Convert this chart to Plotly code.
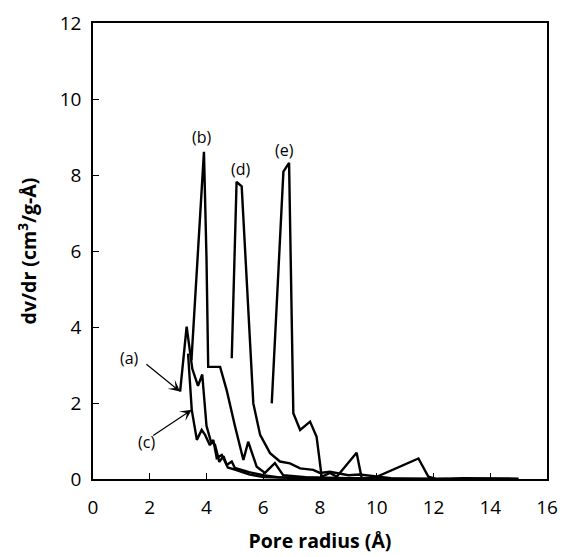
import plotly.graph_objects as go

# Pore size distribution curves (pore radius in Å, dv/dr in cm3/g-Å)
a_x = [3.07, 3.30, 3.50, 3.70, 3.85, 4.00, 4.15, 4.30, 4.45, 4.60, 4.75, 5.00, 5.50, 6.00, 7.00, 8.00, 10.0, 12.0]
a_y = [2.30, 4.01, 2.90, 2.45, 2.75, 1.40, 1.00, 0.90, 0.45, 0.60, 0.30, 0.25, 0.12, 0.05, 0.03, 0.02, 0.01, 0.00]

b_x = [3.47, 3.88, 3.91, 4.00, 4.06, 4.48, 4.71, 5.00, 5.30, 5.47, 5.77, 6.06, 6.41, 6.70, 7.50, 8.50, 10.0]
b_y = [3.13, 7.96, 8.61, 5.80, 2.95, 2.95, 2.34, 1.40, 0.50, 0.98, 0.32, 0.16, 0.42, 0.10, 0.05, 0.03, 0.01]

c_x = [3.35, 3.48, 3.66, 3.83, 3.95, 4.12, 4.24, 4.36, 4.54, 4.71, 4.89, 5.00, 5.50, 6.00, 6.50, 7.50, 9.00, 11.0, 12.5]
c_y = [3.30, 1.82, 1.03, 1.29, 1.16, 0.89, 1.03, 0.55, 0.63, 0.37, 0.46, 0.29, 0.18, 0.10, 0.05, 0.03, 0.02, 0.01, 0.00]

d_x = [4.89, 5.06, 5.24, 5.65, 5.89, 6.24, 6.59, 6.94, 7.30, 7.76, 8.00, 8.35, 9.00, 9.40, 10.5]
d_y = [3.18, 7.82, 7.70, 1.99, 1.16, 0.68, 0.46, 0.41, 0.28, 0.24, 0.16, 0.19, 0.10, 0.12, 0.02]

e_x = [6.30, 6.71, 6.91, 7.06, 7.30, 7.65, 7.88, 8.06, 8.35, 8.59, 9.29, 9.47, 9.88, 11.47, 11.82, 12.10, 13.0, 15.0]
e_y = [1.99, 8.09, 8.32, 1.73, 1.29, 1.51, 1.11, 0.06, 0.16, 0.06, 0.69, 0.02, 0.02, 0.54, 0.06, 0.00, 0.02, 0.01]

series = [("a", a_x, a_y), ("b", b_x, b_y), ("c", c_x, c_y), ("d", d_x, d_y), ("e", e_x, e_y)]

# Curve labels
label_text = ["(a)", "(c)", "(b)", "(d)", "(e)"]
label_x = [1.30, 1.89, 3.85, 5.22, 6.74]
label_y = [3.18, 0.98, 9.00, 8.16, 8.66]

x_ticks = [0, 2, 4, 6, 8, 10, 12, 14, 16]
y_ticks = [0, 2, 4, 6, 8, 10, 12]

FONT = "Open Sans, DejaVu Sans, sans-serif"

fig = go.Figure()
for name, xs, ys in series:
    fig.add_trace(go.Scatter(x=xs, y=ys, mode="lines", name=name,
                             line=dict(color="black", width=2.4),
                             showlegend=False, hoverinfo="skip"))

for t, lx, ly in zip(label_text, label_x, label_y):
    fig.add_annotation(x=lx, y=ly, text=t, showarrow=False,
                       font=dict(family=FONT, size=16, color="black"))

# Arrows from (a) and (c) labels to their curves
fig.add_annotation(x=3.07, y=2.30, ax=1.83, ay=3.05, xref="x", yref="y",
                   axref="x", ayref="y", text="", showarrow=True,
                   arrowhead=3, arrowsize=1.6, arrowwidth=1.2, arrowcolor="black")
fig.add_annotation(x=3.48, y=1.82, ax=2.07, ay=1.12, xref="x", yref="y",
                   axref="x", ayref="y", text="", showarrow=True,
                   arrowhead=3, arrowsize=1.6, arrowwidth=1.2, arrowcolor="black")

fig.update_layout(
    width=569, height=557,
    margin=dict(l=93, r=22, t=23, b=78),
    paper_bgcolor="white", plot_bgcolor="white",
    font=dict(family=FONT, color="black", size=18),
)
fig.update_xaxes(range=[0, 16], tickvals=x_ticks, ticks="inside", ticklen=6,
                 tickcolor="black", showgrid=False, zeroline=False,
                 showline=True, linecolor="black", linewidth=1.5, mirror=True,
                 ticklabelstandoff=10, automargin=False,
                 tickfont=dict(size=19, family=FONT),
                 title=dict(text="<b>Pore radius (Å)</b>", font=dict(size=19.5, family=FONT), standoff=16))
fig.update_yaxes(range=[0, 12], tickvals=y_ticks, ticks="inside", ticklen=6,
                 tickcolor="black", showgrid=False, zeroline=False,
                 showline=True, linecolor="black", linewidth=1.5, mirror=True,
                 ticklabelstandoff=6, automargin=False,
                 tickfont=dict(size=19, family=FONT),
                 title=dict(text="<b>dv/dr (cm<sup>3</sup>/g-Å)</b>", font=dict(size=19.5, family=FONT), standoff=18))

fig.write_html("out.html", config={"displayModeBar": False},
               post_script="document.body.style.margin='0';")
